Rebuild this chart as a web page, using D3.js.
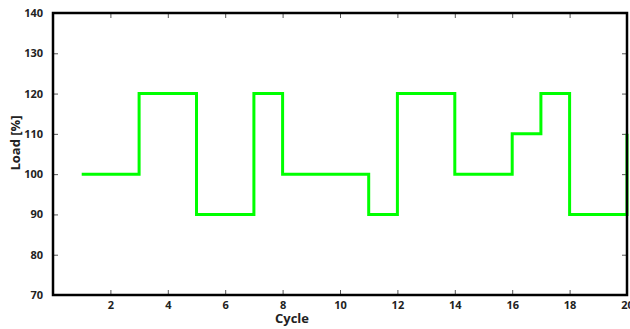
<!DOCTYPE html>
<html lang="en">
<head>
    <meta charset="UTF-8">
    <title>Load per cycle</title>
    <script src="https://cdn.jsdelivr.net/npm/d3@7/dist/d3.min.js"></script>
    <style>
        body { margin: 0; background: #fff; }
        text { font-family: "Open Sans", sans-serif; font-weight: bold; fill: #222; }
    </style>
</head>
<body>
<script>

    // step changes: cycle where the load switches, and the load afterwards
    var cycles = [1, 3, 5, 7, 8, 11, 12, 14, 16, 17, 18, 20];
    var loads = [100, 120, 90, 120, 100, 90, 120, 100, 110, 120, 90, 110];
    var xTicks = [2, 4, 6, 8, 10, 12, 14, 16, 18, 20];
    var yTicks = [70, 80, 90, 100, 110, 120, 130, 140];

    var width = 630, height = 329;
    // plot box (note: "top" is taken by window.top, so use other names)
    var plotL = 53, plotT = 13, plotR = 627, plotB = 295;

    var svg = d3.select("body").append("svg")
        .attr("width", width)
        .attr("height", height);

    var x = d3.scaleLinear().domain([0, 20]).range([plotL, plotR]);
    var y = d3.scaleLinear().domain([70, 140]).range([plotB, plotT]);

    // ticks on all four sides, pointing inwards
    function ticks(axis, at) {
        var g = svg.append("g")
            .attr("transform", at)
            .call(axis);
        g.select(".domain").remove();
        g.selectAll(".tick line").attr("stroke", "#555").attr("stroke-width", 1);
        return g;
    }

    var gb = ticks(d3.axisBottom(x).tickValues(xTicks).tickSize(-5).tickPadding(6), "translate(0," + plotB + ")");
    gb.selectAll("text").style("font-size", "11px");
    ticks(d3.axisTop(x).tickValues(xTicks).tickSize(-5).tickFormat(""), "translate(0," + plotT + ")");
    var gl = ticks(d3.axisLeft(y).tickValues(yTicks).tickSize(-5).tickPadding(10), "translate(" + plotL + ",0)");
    gl.selectAll("text").style("font-size", "11px");
    ticks(d3.axisRight(y).tickValues(yTicks).tickSize(-5).tickFormat(""), "translate(" + plotR + ",0)");

    // the load curve
    var line = d3.line()
        .x(function (d, i) { return x(cycles[i]); })
        .y(function (d) { return y(d); })
        .curve(d3.curveStepAfter);

    svg.append("path")
        .datum(loads)
        .attr("d", line)
        .attr("fill", "none")
        .attr("stroke", "#00ff00")
        .attr("stroke-width", 3);

    // frame
    svg.append("rect")
        .attr("x", plotL)
        .attr("y", plotT)
        .attr("width", plotR - plotL)
        .attr("height", plotB - plotT)
        .attr("fill", "none")
        .attr("stroke", "#000")
        .attr("stroke-width", 2.5);

    svg.append("text")
        .attr("x", 292)
        .attr("y", 323)
        .attr("text-anchor", "middle")
        .style("font-size", "13px")
        .text("Cycle");

    svg.append("text")
        .attr("transform", "translate(20,143) rotate(-90)")
        .attr("text-anchor", "middle")
        .style("font-size", "13px")
        .text("Load [%]");

</script>
</body>
</html>
